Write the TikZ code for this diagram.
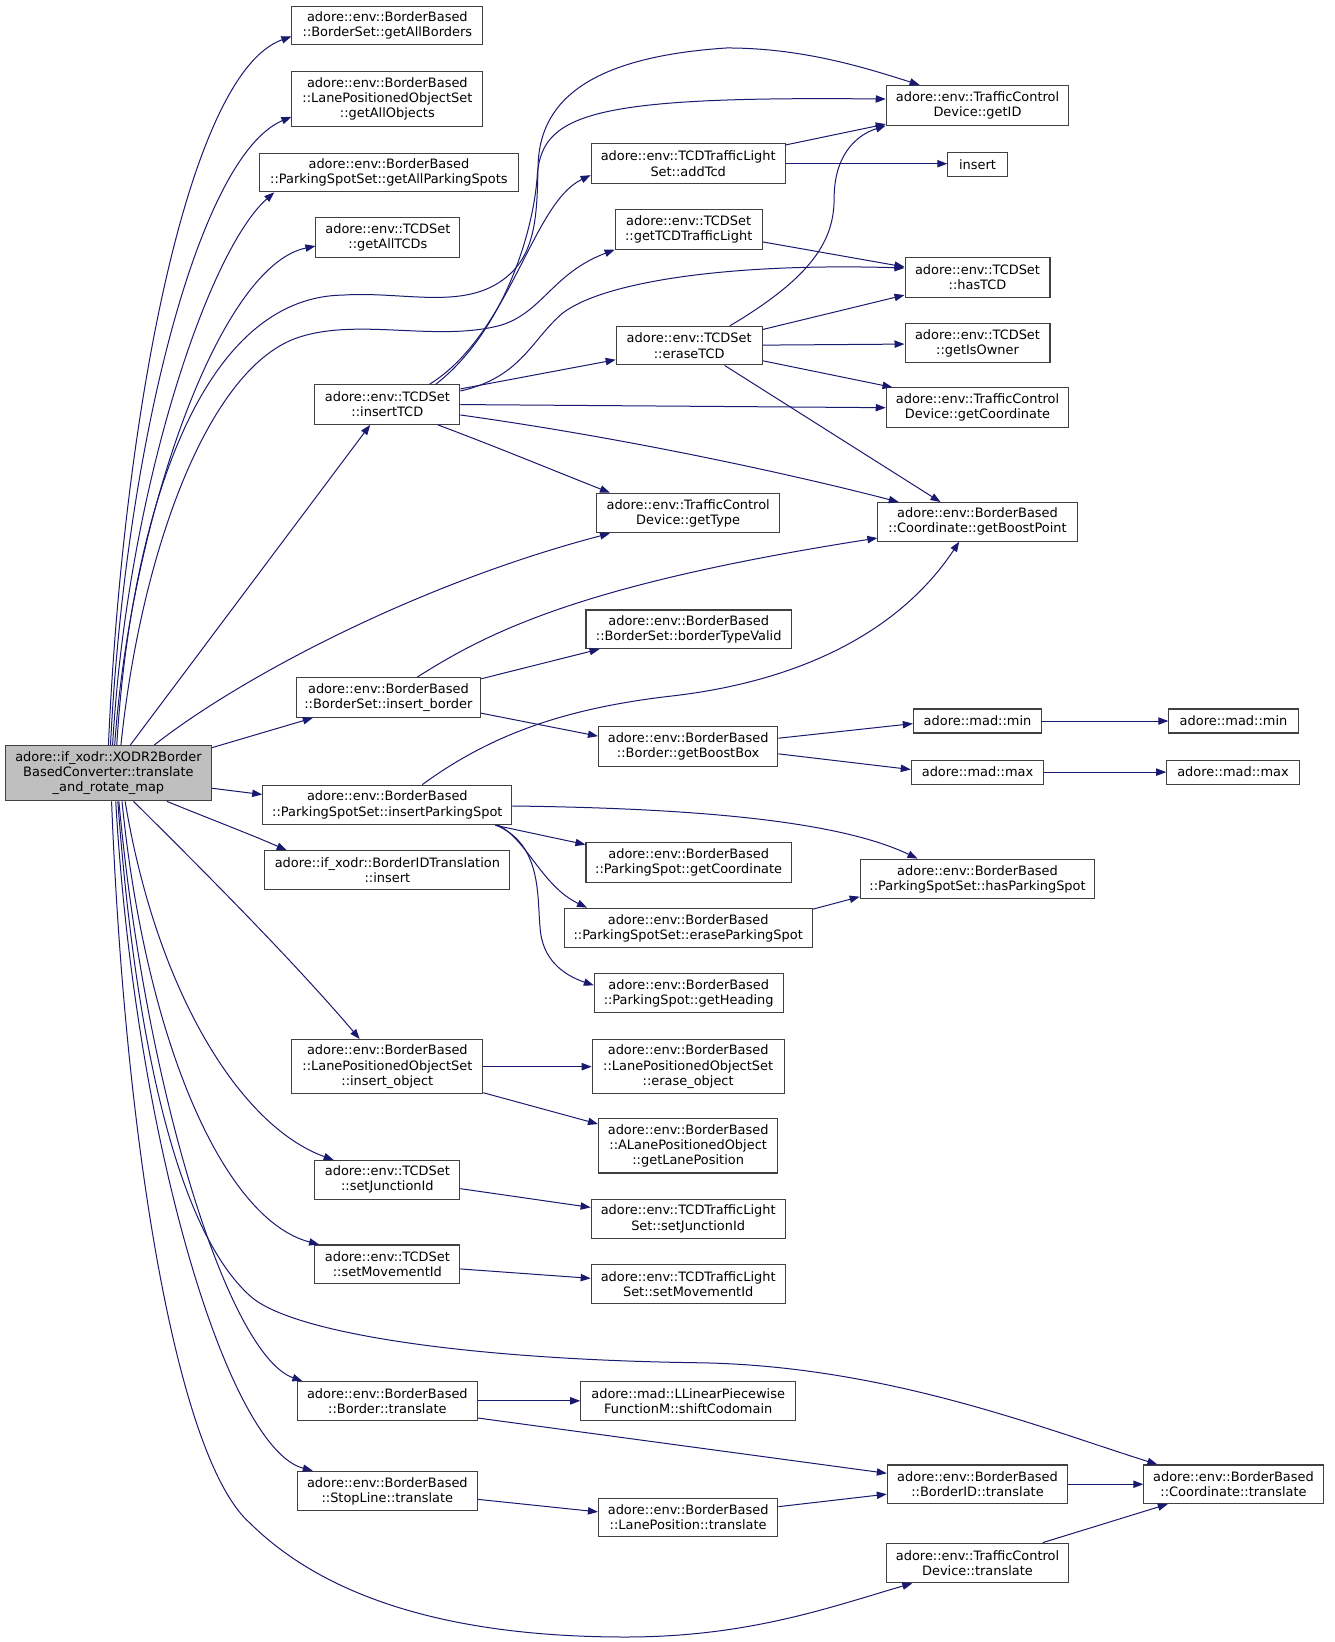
\documentclass[tikz,border=0pt]{standalone}
\usepackage{fontspec}
\setmainfont{DejaVu Sans}
\usetikzlibrary{arrows.meta}
\definecolor{edgeblue}{HTML}{191970}
\definecolor{boxline}{HTML}{404040}
\definecolor{mainfill}{HTML}{BFBFBF}
\newcommand\dn[7][]{\node[box,#1,minimum width={(#5-#3)*0.782pt},minimum height={(#6-#4)*0.782pt}] (#2) at ({(#3+#5)/2},{(#4+#6)/2}) {#7};}
\begin{document}
\begin{tikzpicture}[x=0.782pt,y=-0.782pt,
  box/.style={draw=boxline,line width=0.8pt,fill=white,inner sep=0pt,align=center,font=\fontsize{9.7}{11.3}\selectfont},
  edge/.style={draw=edgeblue,line width=0.75pt,-{Triangle[length=7.5pt,width=5.5pt]}}]
\fill[white] (0,0) rectangle (1280.3,1574.8);
\useasboundingbox (0,0) rectangle (1280.3,1574.8);
% nodes
\dn[fill=mainfill]{main}{5}{715}{203}{768}{adore::if\_xodr::XODR2Border\\BasedConverter::translate\\\_and\_rotate\_map}
\dn{gAB}{280}{6}{463}{43}{adore::env::BorderBased\\::BorderSet::getAllBorders}
\dn{gAO}{280}{69}{463}{121}{adore::env::BorderBased\\::LanePositionedObjectSet\\::getAllObjects}
\dn{gAPS}{249}{147}{497}{184}{adore::env::BorderBased\\::ParkingSpotSet::getAllParkingSpots}
\dn{gAT}{303}{209}{441}{247}{adore::env::TCDSet\\::getAllTCDs}
\dn{iTCD}{302}{369}{441}{407}{adore::env::TCDSet\\::insertTCD}
\dn{iB}{284}{650}{461}{688}{adore::env::BorderBased\\::BorderSet::insert\_border}
\dn{iPS}{252}{753}{491}{791}{adore::env::BorderBased\\::ParkingSpotSet::insertParkingSpot}
\dn{BIT}{254}{816}{489}{853}{adore::if\_xodr::BorderIDTranslation\\::insert}
\dn{iO}{280}{997}{463}{1049}{adore::env::BorderBased\\::LanePositionedObjectSet\\::insert\_object}
\dn{sJ}{302}{1113}{441}{1150}{adore::env::TCDSet\\::setJunctionId}
\dn{sM}{302}{1194}{441}{1231}{adore::env::TCDSet\\::setMovementId}
\dn{BT}{285}{1325}{458}{1362}{adore::env::BorderBased\\::Border::translate}
\dn{SLT}{285}{1411}{458}{1449}{adore::env::BorderBased\\::StopLine::translate}
\dn{addTcd}{567}{138}{753}{176}{adore::env::TCDTrafficLight\\Set::addTcd}
\dn{gTL}{590}{201}{731}{239}{adore::env::TCDSet\\::getTCDTrafficLight}
\dn{eTCD}{591}{313}{731}{350}{adore::env::TCDSet\\::eraseTCD}
\dn{gType}{572}{473}{748}{511}{adore::env::TrafficControl\\Device::getType}
\dn{bTV}{562}{585}{759}{622}{adore::env::BorderBased\\::BorderSet::borderTypeValid}
\dn{gBB}{574}{697}{746}{735}{adore::env::BorderBased\\::Border::getBoostBox}
\dn{psGC}{562}{808}{759}{846}{adore::env::BorderBased\\::ParkingSpot::getCoordinate}
\dn{ePS}{541}{871}{779}{909}{adore::env::BorderBased\\::ParkingSpotSet::eraseParkingSpot}
\dn{gH}{570}{934}{751}{971}{adore::env::BorderBased\\::ParkingSpot::getHeading}
\dn{eO}{568}{997}{752}{1049}{adore::env::BorderBased\\::LanePositionedObjectSet\\::erase\_object}
\dn{gLP}{574}{1073}{746}{1125}{adore::env::BorderBased\\::ALanePositionedObject\\::getLanePosition}
\dn{tlSJ}{567}{1150}{753}{1188}{adore::env::TCDTrafficLight\\Set::setJunctionId}
\dn{tlSM}{567}{1213}{753}{1250}{adore::env::TCDTrafficLight\\Set::setMovementId}
\dn{sC}{557}{1325}{763}{1362}{adore::mad::LLinearPiecewise\\FunctionM::shiftCodomain}
\dn{LPT}{574}{1437}{746}{1474}{adore::env::BorderBased\\::LanePosition::translate}
\dn{gID}{850}{82}{1025}{120}{adore::env::TrafficControl\\Device::getID}
\dn{ins}{909}{146}{966}{169}{insert}
\dn{hTCD}{868}{247}{1007}{285}{adore::env::TCDSet\\::hasTCD}
\dn{gIO}{868}{310}{1007}{348}{adore::env::TCDSet\\::getIsOwner}
\dn{gC}{850}{372}{1025}{410}{adore::env::TrafficControl\\Device::getCoordinate}
\dn{gBP}{842}{482}{1033}{519}{adore::env::BorderBased\\::Coordinate::getBoostPoint}
\dn{minA}{876}{680}{999}{703}{adore::mad::min}
\dn{maxA}{874}{729}{1001}{752}{adore::mad::max}
\dn{hPS}{825}{824}{1050}{862}{adore::env::BorderBased\\::ParkingSpotSet::hasParkingSpot}
\dn{BIDT}{851}{1405}{1024}{1442}{adore::env::BorderBased\\::BorderID::translate}
\dn{TCDT}{850}{1480}{1025}{1518}{adore::env::TrafficControl\\Device::translate}
\dn{minB}{1121}{680}{1245}{703}{adore::mad::min}
\dn{maxB}{1119}{729}{1246}{752}{adore::mad::max}
\dn{CT}{1097}{1405}{1269}{1442}{adore::env::BorderBased\\::Coordinate::translate}
% edges from main
\draw[edge] (main.north -| 104,0) .. controls (118,400) and (180,70) .. (gAB.west |- 0,35);
\draw[edge] (main.north -| 106,0) .. controls (120,430) and (190,150) .. (gAO.west |- 0,112);
\draw[edge] (main.north -| 108,0) .. controls (122,470) and (200,240) .. (gAPS.south -| 263,0);
\draw[edge] (main.north -| 110,0) .. controls (125,500) and (210,255) .. (gAT.west |- 0,236);
\draw[edge] (main.north -| 112,0) .. controls (125,500) and (190,285) .. (329,283) .. controls (390,279) and (450,300) .. (490,262) .. controls (515,238) and (515,200) .. (516,160) .. controls (517,100) and (560,55) .. (697,46) .. controls (770,46) and (830,65) .. (gID.north -| 882,0);
\draw[edge] (main.north -| 116,0) .. controls (135,530) and (200,350) .. (288,323) .. controls (345,305) and (420,328) .. (480,312) .. controls (520,300) and (530,262) .. (gTL.south west);
\draw[edge] (main.north -| 125,0) -- (iTCD.south -| 355,0);
\draw[edge] (main.north -| 148,0) .. controls (230,650) and (400,560) .. (gType.south -| 585,0);
\draw[edge] (main.east |- 0,717) -- (iB.south -| 300,0);
\draw[edge] (main.east |- 0,756) -- (iPS.west |- 0,762);
\draw[edge] (main.south -| 160,0) .. controls (200,785) and (240,800) .. (BIT.north -| 275,0);
\draw[edge] (main.south -| 128,0) .. controls (190,830) and (280,920) .. (iO.north -| 345,0);
\draw[edge] (main.south -| 120,0) .. controls (150,950) and (230,1080) .. (sJ.north -| 320,0);
\draw[edge] (main.south -| 117,0) .. controls (140,1000) and (215,1170) .. (sM.north -| 306,0);
\draw[edge] (main.south -| 113,0) .. controls (130,1000) and (170,1180) .. (240,1243) .. controls (280,1279) and (450,1304) .. (671,1307) .. controls (850,1310) and (1000,1370) .. (CT.north -| 1110,0);
\draw[edge] (main.south -| 114,0) .. controls (140,1050) and (220,1300) .. (BT.north -| 290,0);
\draw[edge] (main.south -| 111,0) .. controls (130,1100) and (220,1390) .. (SLT.north -| 300,0);
\draw[edge] (main.south -| 107,0) .. controls (120,1100) and (170,1400) .. (240,1461) .. controls (320,1540) and (450,1570) .. (600,1570) .. controls (720,1570) and (800,1540) .. (TCDT.south -| 875,0);
% edges from insertTCD
\draw[edge] (iTCD.north -| 412,0) .. controls (490,320) and (510,195) .. (addTcd.west |- 0,168);
\draw[edge] (iTCD.north -| 418,0) .. controls (480,320) and (510,230) .. (515,172) .. controls (518,110) and (560,92) .. (gID.west |- 0,95);
\draw[edge] (iTCD.east |- 0,375) .. controls (500,362) and (510,325) .. (540,300) .. controls (580,270) and (700,252) .. (hTCD.west |- 0,257);
\draw[edge] (iTCD.east |- 0,373) -- (eTCD.west |- 0,345);
\draw[edge] (iTCD.east |- 0,388) -- (gC.west |- 0,391);
\draw[edge] (iTCD.east |- 0,398) .. controls (600,420) and (760,455) .. (gBP.north -| 862,0);
\draw[edge] (iTCD.south -| 420,0) .. controls (480,430) and (540,455) .. (gType.north -| 585,0);
% eraseTCD
\draw[edge] (eTCD.north -| 700,0) .. controls (780,265) and (800,230) .. (800,190) .. controls (800,150) and (820,130) .. (gID.south west);
\draw[edge] (eTCD.east |- 0,316) -- (hTCD.west |- 0,283);
\draw[edge] (eTCD.east |- 0,331) -- (gIO.west |- 0,330);
\draw[edge] (eTCD.east |- 0,346) -- (gC.north -| 856,0);
\draw[edge] (eTCD.south -| 695,0) -- (gBP.north -| 902,0);
% others top
\draw[edge] (gTL.east |- 0,232) -- (hTCD.west |- 0,256);
\draw[edge] (addTcd.east |- 0,139) -- (gID.west |- 0,119);
\draw[edge] (addTcd.east |- 0,157) -- (ins.west |- 0,157);
% insert_border
\draw[edge] (iB.north -| 400,0) .. controls (470,605) and (560,560) .. (gBP.west |- 0,516);
\draw[edge] (iB.east |- 0,651) -- (bTV.south -| 575,0);
\draw[edge] (iB.east |- 0,684) -- (gBB.west |- 0,706);
\draw[edge] (gBB.east |- 0,708) -- (minA.west |- 0,694);
\draw[edge] (gBB.east |- 0,723) -- (maxA.west |- 0,738);
\draw[edge] (minA.east) -- (minB.west);
\draw[edge] (maxA.east) -- (maxB.west);
% insertParkingSpot
\draw[edge] (iPS.north -| 405,0) .. controls (470,705) and (540,680) .. (640,668) .. controls (760,655) and (860,610) .. (gBP.south -| 920,0);
\draw[edge] (iPS.east |- 0,773) .. controls (650,775) and (800,785) .. (hPS.north -| 880,0);
\draw[edge] (iPS.south -| 475,0) -- (psGC.west |- 0,810);
\draw[edge] (iPS.south -| 478,0) .. controls (505,805) and (520,850) .. (ePS.north -| 563,0);
\draw[edge] (iPS.south -| 476,0) .. controls (520,810) and (515,860) .. (518,890) .. controls (520,920) and (540,935) .. (gH.west |- 0,945);
\draw[edge] (ePS.east |- 0,872) -- (hPS.west |- 0,860);
% lower part
\draw[edge] (iO.east) -- (eO.west);
\draw[edge] (iO.east |- 0,1048) -- (gLP.west |- 0,1078);
\draw[edge] (sJ.east |- 0,1140) -- (tlSJ.west |- 0,1158);
\draw[edge] (sM.east |- 0,1217) -- (tlSM.west |- 0,1226);
\draw[edge] (BT.east) -- (sC.west);
\draw[edge] (BT.east |- 0,1360) -- (BIDT.west |- 0,1413);
\draw[edge] (SLT.east |- 0,1438) -- (LPT.west |- 0,1450);
\draw[edge] (LPT.east |- 0,1445) -- (BIDT.west |- 0,1433);
\draw[edge] (BIDT.east) -- (CT.west);
\draw[edge] (TCDT.north -| 1000,0) -- (CT.south -| 1120,0);
\end{tikzpicture}
\end{document}
